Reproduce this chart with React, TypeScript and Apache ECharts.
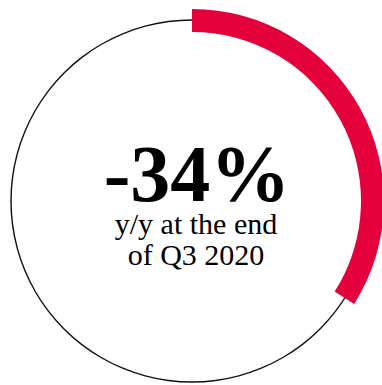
import React, { useEffect, useRef } from "react";
import * as echarts from "echarts";

const changeValue = [-34];
const arcShare = [34, 66];
const captionLines = ["y/y at the end", "of Q3 2020"];

export default function App() {
  const ref = useRef<HTMLDivElement>(null);
  useEffect(() => {
    if (!ref.current) return;
    const chart = echarts.init(ref.current, undefined, { renderer: "svg" });
    const cx = 192;
    const cy = 201;
    chart.setOption({
      animation: false,
      backgroundColor: "#ffffff",
      series: [
        {
          type: "pie",
          silent: true,
          center: [cx, cy],
          radius: [180.3, 181.7],
          label: { show: false },
          labelLine: { show: false },
          emphasis: { disabled: true },
          itemStyle: { color: "#111111" },
          data: [{ value: 100 }],
          z: 1,
        },
        {
          type: "pie",
          silent: true,
          center: [cx, cy],
          radius: [169, 192],
          startAngle: 90,
          clockwise: true,
          label: { show: false },
          labelLine: { show: false },
          emphasis: { disabled: true },
          data: [
            { value: arcShare[0], itemStyle: { color: "#e4003b" } },
            { value: arcShare[1], itemStyle: { color: "rgba(0,0,0,0)" } },
          ],
          z: 2,
        },
      ],
      graphic: [
        {
          type: "text",
          x: 197,
          y: 174,
          style: {
            text: `${changeValue[0]}%`,
            font: "bold 80px 'Liberation Serif'",
            lineHeight: 56,
            fill: "#000000",
            align: "center",
            verticalAlign: "middle",
          },
        },
        ...captionLines.map((t, i) => ({
          type: "text",
          x: 196,
          y: 223 + i * 31,
          style: {
            text: t,
            font: "30px 'Liberation Serif'",
            lineHeight: 28,
            fill: "#000000",
            align: "center",
            verticalAlign: "middle",
          },
        })),
      ],
    });
    return () => chart.dispose();
  }, []);
  return (
    <div
      ref={ref}
      style={{ position: "fixed", left: 0, top: 0, width: 382, height: 385 }}
    />
  );
}
